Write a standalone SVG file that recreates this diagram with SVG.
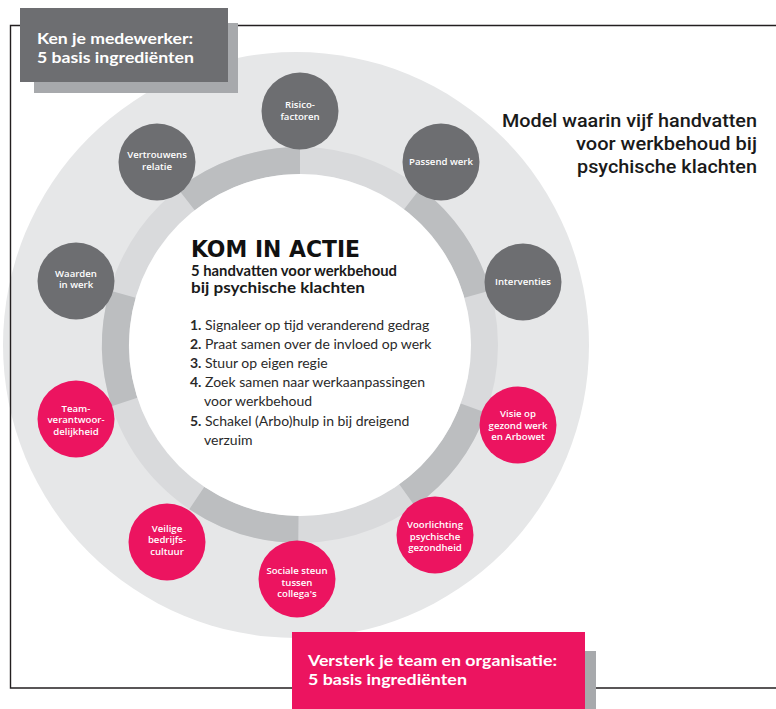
<svg xmlns="http://www.w3.org/2000/svg" width="776" height="709" viewBox="0 0 776 709">
  <style>
    .disk { fill: #e6e7e8; }
    .band-light { fill: none; stroke: #d9dadc; stroke-width: 27; }
    .band-dark { fill: none; stroke: #bcbec0; stroke-width: 27; }
    .core { fill: #ffffff; }
    .frame { fill: none; stroke: #231f20; stroke-width: 1.4; }
    .node-grey { fill: #6d6e71; }
    .node-pink { fill: #ec1460; }
    .node-label { font-family: "Open Sans", "Noto Sans", sans-serif; font-weight: 600; font-size: 9.6px; fill: #ffffff; text-anchor: middle; }
    .box-label { font-family: "Lato", "Noto Sans", sans-serif; font-weight: 700; font-size: 16px; fill: #ffffff; }
    .title { font-family: "Roboto", "Noto Sans", sans-serif; font-weight: 500; font-size: 18.5px; fill: #1a1a1a; text-anchor: end; }
    .heading { font-family: "DejaVu Sans Condensed", "DejaVu Sans", sans-serif; font-stretch: condensed; font-weight: 700; font-size: 23px; fill: #111111; }
    .sub { font-family: "Lato", "Noto Sans", sans-serif; font-weight: 700; font-size: 14.5px; fill: #1a1a1a; }
    .item { font-family: "Lato", "Noto Sans", sans-serif; font-weight: 400; font-size: 14px; fill: #2a2a2a; }
    .num { font-weight: 700; }
  </style>

  <!-- background disk and ring -->
  <g id="ring">
    <circle class="disk" cx="296" cy="345" r="293"/>
    <circle class="band-light" cx="300" cy="345" r="184.5"/>
    <path class="band-dark" d="M412.32,198.62 A184.5,184.5 0 0 1 477.35,294.15"/>
    <path class="band-dark" d="M473.37,408.10 A184.5,184.5 0 0 1 407.14,495.20"/>
    <path class="band-dark" d="M298.39,529.49 A184.5,184.5 0 0 1 196.83,497.95"/>
    <path class="band-dark" d="M124.53,402.01 A184.5,184.5 0 0 1 122.65,294.15"/>
    <path class="band-dark" d="M186.41,199.62 A184.5,184.5 0 0 1 300,160.5"/>
    <circle class="core" cx="300" cy="345" r="171"/>
  </g>

  <!-- outline frame -->
  <g id="connectors">
    <path class="frame" d="M776,25.5 H10.5 V688 H776"/>
  </g>

  <!-- centre text -->
  <g id="kom-in-actie">
    <text class="heading" x="191" y="257" textLength="169" lengthAdjust="spacingAndGlyphs">KOM IN ACTIE</text>
    <text class="sub" x="191" y="276" textLength="206" lengthAdjust="spacingAndGlyphs">5 handvatten voor werkbehoud</text>
    <text class="sub" x="191" y="293" textLength="174" lengthAdjust="spacingAndGlyphs">bij psychische klachten</text>
    <text class="item" x="190" y="329.5"><tspan class="num">1.</tspan> Signaleer op tijd veranderend gedrag</text>
    <text class="item" x="190" y="348.7"><tspan class="num">2.</tspan> Praat samen over de invloed op werk</text>
    <text class="item" x="190" y="367.9"><tspan class="num">3.</tspan> Stuur op eigen regie</text>
    <text class="item" x="190" y="387.1"><tspan class="num">4.</tspan> Zoek samen naar werkaanpassingen</text>
    <text class="item" x="204" y="406.3">voor werkbehoud</text>
    <text class="item" x="190" y="425.5"><tspan class="num">5.</tspan> Schakel (Arbo)hulp in bij dreigend</text>
    <text class="item" x="204" y="444.7">verzuim</text>
  </g>

  <!-- individual ingredients -->
  <g id="risicofactoren">
    <circle class="node-grey" cx="300" cy="111" r="38.5"/>
    <text class="node-label" x="300" y="108.3">Risico-</text>
    <text class="node-label" x="300" y="119.8">factoren</text>
  </g>
  <g id="passend-werk">
    <circle class="node-grey" cx="441" cy="162" r="38.5"/>
    <text class="node-label" x="441" y="165">Passend werk</text>
  </g>
  <g id="interventies">
    <circle class="node-grey" cx="523" cy="282" r="38.5"/>
    <text class="node-label" x="523" y="285">Interventies</text>
  </g>
  <g id="visie-arbowet">
    <circle class="node-pink" cx="518" cy="425" r="38.5"/>
    <text class="node-label" x="518" y="417.2">Visie op</text>
    <text class="node-label" x="518" y="428.7">gezond werk</text>
    <text class="node-label" x="518" y="440.2">en Arbowet</text>
  </g>
  <g id="voorlichting">
    <circle class="node-pink" cx="435" cy="535" r="38.5"/>
    <text class="node-label" x="435" y="528">Voorlichting</text>
    <text class="node-label" x="435" y="539.5">psychische</text>
    <text class="node-label" x="435" y="551">gezondheid</text>
  </g>
  <g id="sociale-steun">
    <circle class="node-pink" cx="297" cy="579" r="38.5"/>
    <text class="node-label" x="297" y="574">Sociale steun</text>
    <text class="node-label" x="297" y="585.5">tussen</text>
    <text class="node-label" x="297" y="597">collega's</text>
  </g>
  <g id="veilige-bedrijfscultuur">
    <circle class="node-pink" cx="167" cy="542" r="38.5"/>
    <text class="node-label" x="167" y="531.5">Veilige</text>
    <text class="node-label" x="167" y="543">bedrijfs-</text>
    <text class="node-label" x="167" y="554.5">cultuur</text>
  </g>
  <g id="teamverantwoordelijkheid">
    <circle class="node-pink" cx="76" cy="419" r="38.5"/>
    <text class="node-label" x="76" y="411.5">Team-</text>
    <text class="node-label" x="76" y="423">verantwoor-</text>
    <text class="node-label" x="76" y="434.5">delijkheid</text>
  </g>
  <g id="waarden-in-werk">
    <circle class="node-grey" cx="76" cy="281" r="38.5"/>
    <text class="node-label" x="76" y="276.5">Waarden</text>
    <text class="node-label" x="76" y="288">in werk</text>
  </g>
  <g id="vertrouwensrelatie">
    <circle class="node-grey" cx="157" cy="162" r="38.5"/>
    <text class="node-label" x="157" y="158.3">Vertrouwens</text>
    <text class="node-label" x="157" y="169.8">relatie</text>
  </g>

  <!-- caption boxes -->
  <g id="ken-je-medewerker">
    <rect x="34" y="23" width="204" height="70" fill="#a7a9ac"/>
    <rect x="20" y="8" width="208" height="74" fill="#6d6e71"/>
    <text class="box-label" x="37" y="43.5" textLength="156" lengthAdjust="spacingAndGlyphs">Ken je medewerker:</text>
    <text class="box-label" x="37" y="62.5" textLength="157" lengthAdjust="spacingAndGlyphs">5 basis ingrediënten</text>
  </g>
  <g id="versterk-je-team">
    <rect x="585" y="651" width="11" height="58" fill="#a7a9ac"/>
    <rect x="292" y="632" width="293" height="77" fill="#ec1460"/>
    <text class="box-label" x="308" y="666" textLength="249" lengthAdjust="spacingAndGlyphs">Versterk je team en organisatie:</text>
    <text class="box-label" x="308" y="684.5" textLength="159" lengthAdjust="spacingAndGlyphs">5 basis ingrediënten</text>
  </g>

  <!-- title -->
  <g id="title">
    <text class="title" x="757" y="127" textLength="255" lengthAdjust="spacingAndGlyphs">Model waarin vijf handvatten</text>
    <text class="title" x="757" y="150" textLength="181" lengthAdjust="spacingAndGlyphs">voor werkbehoud bij</text>
    <text class="title" x="757" y="173" textLength="180" lengthAdjust="spacingAndGlyphs">psychische klachten</text>
  </g>
</svg>
